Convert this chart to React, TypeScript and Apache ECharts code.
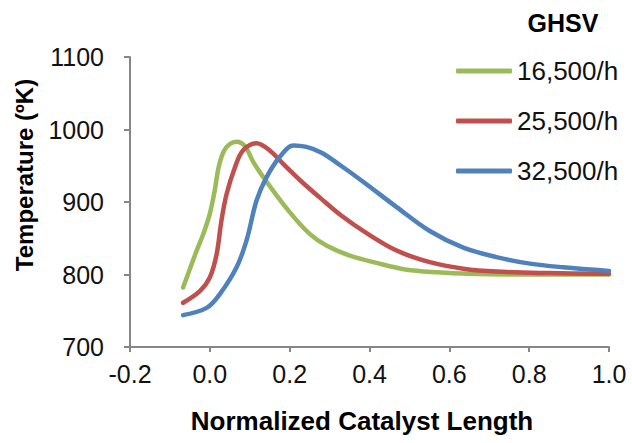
import React, { useEffect, useRef } from "react";
import * as echarts from "echarts";

const seriesNames = ["16,500/h", "25,500/h", "32,500/h"];
const seriesColors = ["#9BBB59", "#C0504D", "#4F81BD"];

const green: [number, number][] = [
  [-0.067, 782], [-0.055, 800], [-0.035, 830], [-0.015, 858], [0, 884], [0.012, 915],
  [0.022, 948], [0.035, 970], [0.05, 980], [0.067, 983], [0.088, 977], [0.109, 955],
  [0.146, 925], [0.2, 886], [0.25, 856], [0.292, 840], [0.351, 826],
  [0.418, 816], [0.49, 807], [0.57, 803], [0.65, 801], [0.8, 800], [1.0, 800],
];
const red: [number, number][] = [
  [-0.067, 761], [-0.025, 777], [0, 796], [0.017, 828], [0.029, 874], [0.042, 911],
  [0.063, 948], [0.083, 971], [0.117, 981], [0.15, 971], [0.192, 948], [0.228, 929],
  [0.28, 904], [0.33, 881], [0.39, 858], [0.468, 833], [0.551, 817],
  [0.635, 808], [0.718, 804], [0.85, 802], [1.0, 801],
];
const blue: [number, number][] = [
  [-0.067, 744], [-0.008, 754], [0.025, 773], [0.067, 810], [0.092, 847], [0.117, 902],
  [0.142, 934], [0.175, 962], [0.209, 978], [0.242, 976], [0.28, 968],
  [0.326, 951], [0.384, 928], [0.468, 893], [0.551, 860], [0.635, 837], [0.718, 824],
  [0.802, 815], [0.885, 810], [1.0, 805],
];
const seriesData = [green, red, blue];

const xTitle = "Normalized Catalyst Length";
const yTitle = "Temperature (ºK)";
const legendTitle = "GHSV";

const FONT = "'Liberation Sans', Arial, sans-serif";

export default function App() {
  const ref = useRef<HTMLDivElement>(null);
  useEffect(() => {
    if (!ref.current) return;
    const chart = echarts.init(ref.current, undefined, { renderer: "svg" });
    chart.setOption({
      animation: false,
      backgroundColor: "#fff",
      grid: { left: 130, right: 23, top: 57, bottom: 96, containLabel: false },
      xAxis: {
        type: "value",
        min: -0.2,
        max: 1.0,
        interval: 0.2,
        axisLine: { show: true, onZero: false, lineStyle: { color: "#868686", width: 2 } },
        axisTick: { show: true, length: 5, inside: false, lineStyle: { color: "#868686", width: 2 } },
        splitLine: { show: false },
        axisLabel: {
          color: "#111",
          fontSize: 25,
          fontFamily: FONT,
          margin: 14,
          formatter: (v: number) => v.toFixed(1),
        },
      },
      yAxis: {
        type: "value",
        min: 700,
        max: 1100,
        interval: 100,
        axisLine: { show: true, onZero: false, lineStyle: { color: "#868686", width: 2 } },
        axisTick: { show: true, length: 6, inside: false, lineStyle: { color: "#868686", width: 2 } },
        splitLine: { show: false },
        axisLabel: {
          color: "#111",
          fontSize: 25,
          fontFamily: FONT,
          margin: 26,
          formatter: (v: number) => String(v),
        },
      },
      legend: {
        orient: "vertical",
        left: 451,
        top: 51,
        itemWidth: 56,
        itemHeight: 5,
        itemGap: 20,
        icon: "roundRect",
        textStyle: { color: "#111", fontSize: 26, fontFamily: FONT, lineHeight: 30 },
        data: seriesNames,
      },
      graphic: [
        {
          type: "text",
          x: 563,
          y: 23,
          style: {
            text: legendTitle,
            fontSize: 25,
            fontWeight: "bold",
            fontFamily: FONT,
            fill: "#000",
            textAlign: "center",
            textVerticalAlign: "middle",
          },
        },
        {
          type: "text",
          x: 362,
          y: 421,
          style: {
            text: xTitle,
            fontSize: 26,
            fontWeight: "bold",
            fontFamily: FONT,
            fill: "#000",
            textAlign: "center",
            textVerticalAlign: "middle",
          },
        },
        {
          type: "text",
          x: 24,
          y: 175,
          rotation: Math.PI / 2,
          style: {
            text: yTitle,
            fontSize: 24,
            fontWeight: "bold",
            fontFamily: FONT,
            fill: "#000",
            textAlign: "center",
            textVerticalAlign: "middle",
          },
        },
      ],
      series: seriesNames.map((name, i) => ({
        name,
        type: "line",
        data: seriesData[i],
        smooth: 0.35,
        showSymbol: false,
        symbol: "none",
        color: seriesColors[i],
        lineStyle: { width: 4.5, color: seriesColors[i], cap: "round", join: "round" },
        itemStyle: { color: seriesColors[i] },
      })),
    });
    return () => chart.dispose();
  }, []);
  return (
    <div
      ref={ref}
      style={{ position: "absolute", left: 0, top: 0, width: 632, height: 443 }}
    />
  );
}
